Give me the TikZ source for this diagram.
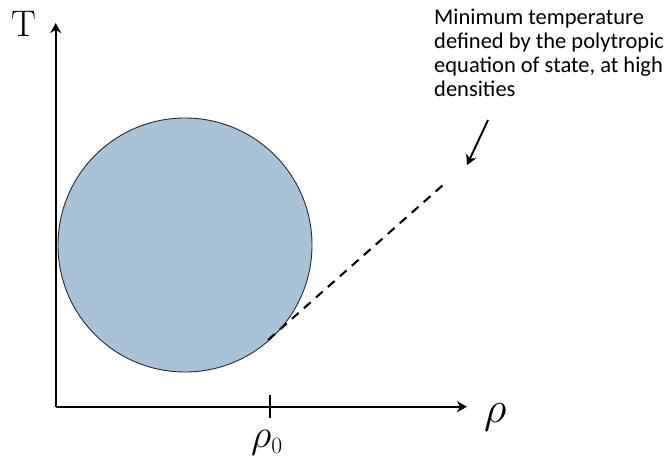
\RequirePackage{fix-cm}
\documentclass[tikz,border=0pt]{standalone}
\usepackage{fontspec}
\usetikzlibrary{arrows.meta}
\newfontfamily\notefont{Carlito}
\definecolor{blobfill}{RGB}{168,195,216}
\definecolor{blobedge}{RGB}{40,40,40}
\begin{document}
\begin{tikzpicture}[x=1pt,y=-1pt,
  tip/.style={-{Stealth[length=10pt,width=11pt,inset=3pt]}},
  axis/.style={line width=1.9pt,tip},
  note/.style={font=\notefont\fontsize{22.5}{24}\selectfont,align=left,anchor=north west,inner sep=0pt},
  lbl/.style={inner sep=0pt,anchor=base west}]
\useasboundingbox (0,0) rectangle (666,459);
\coordinate (O) at (55.7,406.7);
\coordinate (Ytop) at (55.7,23);
\coordinate (Xend) at (467,406.7);
\coordinate (tickT) at (270,395);
\coordinate (tickB) at (270,418);
\draw[axis] (O) -- (Ytop);
\draw[axis] (O) -- (Xend);
\draw[line width=1.9pt] (tickT) -- (tickB);
\node[lbl,font=\fontsize{37}{40}\selectfont] (T) at (11,36) {T};
\node[lbl,font=\fontsize{44}{48}\selectfont] (rho) at (484,422) {$\rho$};
\node[lbl,font=\fontsize{40}{44}\selectfont] (rho0) at (251,447) {$\rho_{\hbox{\fontsize{23.5}{24}\selectfont 0}}$};
\node[circle,draw=blobedge,line width=0.9pt,fill=blobfill,minimum size=254pt,inner sep=0pt] (blob) at (185,245) {};
\coordinate (dA) at (268,340);
\coordinate (dB) at (443,185);
\draw[line width=2.1pt,dash pattern=on 9pt off 7pt] (dA) -- (dB);
\node[note] (txt) at (434,8.5) {Minimum temperature\\defined by the polytropic\\equation of state, at high\\densities};
\coordinate (aS) at (488,120);
\coordinate (aE) at (467,165);
\draw[line width=1.9pt,tip] (aS) -- (aE);
\end{tikzpicture}
\end{document}
